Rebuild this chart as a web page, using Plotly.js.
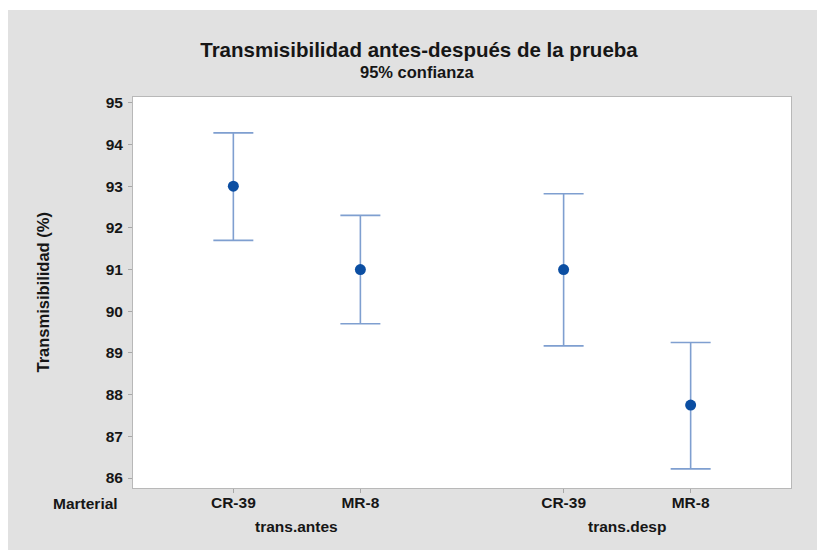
<!DOCTYPE html>
<html>
<head>
<meta charset="utf-8">
<script src="https://cdn.plot.ly/plotly-3.0.1.min.js"></script>
<style>
  html, body { margin: 0; padding: 0; background: #ffffff; width: 817px; height: 550px; overflow: hidden; }
  #chart { position: absolute; left: 8px; top: 10px; width: 809px; height: 540px; }
</style>
</head>
<body>
<div id="chart"></div>
<script>
// ---- data ----
const groups = ['trans.antes', 'trans.desp'];
const materials = ['CR-39', 'MR-8'];
// order: trans.antes CR-39, trans.antes MR-8, trans.desp CR-39, trans.desp MR-8
const meanValues = [93.0, 91.0, 91.0, 87.75];
const ciLower = [91.70, 89.70, 89.17, 86.22];
const ciUpper = [94.28, 92.30, 92.82, 89.25];
const yTicks = [86, 87, 88, 89, 90, 91, 92, 93, 94, 95];

// ---- layout helpers (positions on the category axis) ----
const GROUP_STEP = 2.6;
const xPos = [], xText = [];
groups.forEach((g, gi) => {
  materials.forEach((m, mi) => {
    xPos.push(1 + gi * GROUP_STEP + mi);
    xText.push(m);
  });
});
const groupCenters = groups.map((g, gi) => 1 + gi * GROUP_STEP + (materials.length - 1) / 2);

const errPlus = meanValues.map((v, i) => ciUpper[i] - v);
const errMinus = meanValues.map((v, i) => v - ciLower[i]);

const FONT = 'Liberation Sans, Arial, sans-serif';
const TXT = '#161616';

const trace = {
  type: 'scatter',
  mode: 'markers',
  x: xPos,
  y: meanValues,
  marker: { color: '#0b4ea2', size: 11 },
  error_y: {
    type: 'data',
    symmetric: false,
    array: errPlus,
    arrayminus: errMinus,
    color: '#7f9fd0',
    thickness: 1.6,
    width: 20
  },
  hoverinfo: 'skip',
  showlegend: false
};

const annotations = [
  { text: '<b>95% confianza</b>', xref: 'paper', yref: 'paper', x: 0.433, y: 1, yshift: 25,
    xanchor: 'center', yanchor: 'middle', showarrow: false, font: { family: FONT, size: 16.5, color: TXT } },
  { text: '<b>Transmisibilidad (%)</b>', xref: 'paper', yref: 'paper', x: 0, xshift: -91, y: 0.5,
    xanchor: 'center', yanchor: 'middle', textangle: -90, showarrow: false, font: { family: FONT, size: 16.5, color: TXT } },
  { text: '<b>Marterial</b>', xref: 'paper', yref: 'paper', x: 0, xshift: -47.5, y: 0, yshift: -15.5,
    xanchor: 'center', yanchor: 'middle', showarrow: false, font: { family: FONT, size: 15.5, color: TXT } }
];
groups.forEach((g, gi) => {
  annotations.push({ text: '<b>' + g + '</b>', xref: 'x', yref: 'paper', x: groupCenters[gi], y: 0, yshift: -38,
    xanchor: 'center', yanchor: 'middle', showarrow: false, font: { family: FONT, size: 15.5, color: TXT } });
});

const layout = {
  width: 809,
  height: 540,
  paper_bgcolor: '#e1e1e1',
  plot_bgcolor: '#ffffff',
  margin: { l: 125, r: 26, t: 87, b: 62 },
  font: { family: FONT, color: TXT },
  title: {
    text: '<b>Transmisibilidad antes-después de la prueba</b>',
    font: { family: FONT, size: 20.5, color: TXT },
    xref: 'container', x: 0.508, xanchor: 'center',
    yref: 'container', y: 0.927, yanchor: 'middle'
  },
  xaxis: {
    range: [0.21, 5.39],
    tickmode: 'array',
    tickvals: xPos,
    ticktext: xText.map(t => '<b>' + t + '</b>'),
    ticks: 'outside', ticklen: 4, tickcolor: '#a8a8a8', tickwidth: 1,
    ticklabelstandoff: -4,
    showline: true, linecolor: '#b8b8b8', linewidth: 1, mirror: true,
    showgrid: false, zeroline: false,
    tickfont: { family: FONT, size: 15.5, color: TXT }
  },
  yaxis: {
    range: [85.76, 95.14],
    tickmode: 'array',
    tickvals: yTicks,
    ticktext: yTicks.map(t => '<b>' + t + '</b>'),
    ticks: 'outside', ticklen: 4, tickcolor: '#a8a8a8', tickwidth: 1,
    ticklabelstandoff: 2,
    showline: true, linecolor: '#b8b8b8', linewidth: 1, mirror: true,
    showgrid: false, zeroline: false,
    tickfont: { family: FONT, size: 15.5, color: TXT }
  },
  annotations: annotations
};

Plotly.newPlot('chart', [trace], layout, { displayModeBar: false, staticPlot: true });
</script>
</body>
</html>
